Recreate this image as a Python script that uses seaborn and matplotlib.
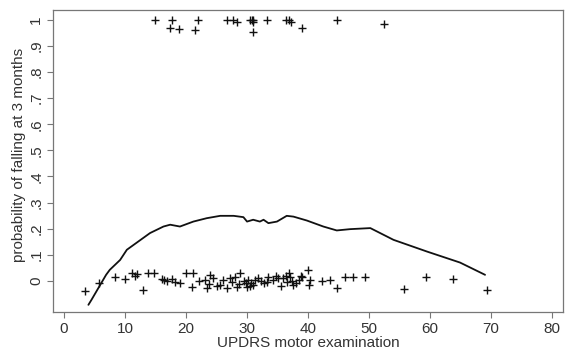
import numpy as np
import pandas as pd
import matplotlib
matplotlib.use("Agg")
import matplotlib.pyplot as plt
import seaborn as sns

# patients who fell (plotted jittered around 1)
updrs_fell = [14.9, 17.7, 17.4, 18.9, 21.9, 21.4, 26.7, 27.7, 28.4, 30.8, 30.5,
              31.0, 30.9, 30.9, 33.2, 36.8, 36.4, 37.2, 39.0, 44.7, 52.4]
prob_fell = [1.0, 1.0, 0.97, 0.965, 1.0, 0.96, 1.0, 1.0, 0.99, 1.0, 1.0,
             1.0, 0.99, 0.955, 1.0, 1.0, 1.0, 0.99, 0.97, 1.0, 0.985]

# patients who did not fall (jittered around 0)
updrs_nofall = [3.4, 5.8, 8.4, 10.0, 11.1, 11.6, 12.9, 13.8, 14.8, 16.0,
                16.8, 17.7, 18.2, 19.0, 20.0, 21.2, 20.9, 23.1, 23.9, 23.4,
                23.7, 24.5, 25.6, 26.1, 27.2, 28.0, 26.7, 28.4, 28.9, 27.5,
                25.0, 29.5, 29.8, 30.2, 30.5, 31.3, 31.0, 31.8, 32.3, 32.7,
                33.5, 33.2, 34.2, 35.1, 35.9, 36.3, 36.8, 37.0, 37.6, 37.3,
                38.1, 38.5, 39.0, 40.0, 40.3, 40.2, 42.2, 43.6, 44.8, 46.1,
                47.4, 49.3, 55.7, 59.4, 63.8, 69.3, 30.0, 30.7, 34.8, 36.5,
                12.0, 16.4, 22.2, 28.6, 35.5, 38.9]
prob_nofall = [-0.04, -0.01, 0.014, 0.007, 0.03, 0.02, -0.037, 0.03, 0.03, 0.007,
               0.0, 0.007, -0.003, -0.009, 0.03, 0.03, -0.022, 0.004, 0.023, -0.028,
               -0.011, 0.01, -0.015, 0.004, 0.01, 0.016, -0.028, -0.022, 0.03, -0.005,
               -0.02, 0.0, -0.01, 0.005, -0.02, 0.004, -0.015, 0.01, 0.0, -0.01,
               0.016, -0.003, 0.005, 0.01, 0.01, 0.02, 0.03, 0.013, -0.015, 0.0,
               -0.009, 0.005, 0.013, 0.042, 0.004, -0.015, 0.001, 0.004, -0.028, 0.016,
               0.013, 0.016, -0.031, 0.013, 0.008, -0.034, -0.025, -0.008, 0.02, -0.005,
               0.025, 0.003, 0.0, -0.012, -0.018, 0.02]

# smoothed probability of falling
smooth_x = [4.0, 4.5, 6.9, 7.5, 9.2, 10.3, 14.1, 16.3, 17.4, 19.0, 21.2, 23.4,
            25.6, 27.8, 29.4, 30.0, 31.0, 32.1, 32.7, 33.5, 34.9, 36.5, 37.6,
            39.8, 42.5, 44.7, 46.9, 50.2, 54.0, 59.5, 64.9, 69.0]
smooth_y = [-0.092, -0.073, 0.023, 0.042, 0.08, 0.119, 0.183, 0.208, 0.215,
            0.208, 0.227, 0.24, 0.249, 0.249, 0.244, 0.227, 0.234, 0.227, 0.234,
            0.221, 0.227, 0.249, 0.246, 0.231, 0.208, 0.193, 0.198, 0.202, 0.157,
            0.112, 0.07, 0.023]

sns.set_style("ticks")
plt.rcParams['font.family'] = ['Liberation Sans', 'DejaVu Sans']

pts = pd.DataFrame({"updrs": updrs_fell + updrs_nofall,
                    "prob": prob_fell + prob_nofall})
fit = pd.DataFrame({"updrs": smooth_x, "prob": smooth_y})

fig = plt.figure(figsize=(5.7, 3.54), dpi=100)
ax = fig.add_axes([0.093, 0.119, 0.895, 0.853])

sns.scatterplot(data=pts, x="updrs", y="prob", marker="+", color="#111111",
                s=38, linewidth=1.0, ax=ax, legend=False)
sns.lineplot(data=fit, x="updrs", y="prob", color="#111111", linewidth=1.3,
             ax=ax, estimator=None)

ax.set_xlim(-1.8, 81.8)
ax.set_ylim(-0.119, 1.038)
ax.set_xticks(range(0, 81, 10))
yt = np.round(np.arange(0, 1.01, 0.1), 1)
ax.set_yticks(yt)
ax.set_yticklabels(["0", ".1", ".2", ".3", ".4", ".5", ".6", ".7", ".8", ".9", "1"],
                   rotation=90, va="center")

for sp in ax.spines.values():
    sp.set_visible(True)
    sp.set_color("#777777")
    sp.set_linewidth(0.9)
ax.tick_params(direction="out", length=4, width=0.8, color="#777777",
               labelsize=11, labelcolor="#333333", pad=3)

ax.set_xlabel("UPDRS motor examination", fontsize=11, color="#333333", labelpad=0)
ax.set_ylabel("probability of falling at 3 months", fontsize=11, color="#333333")
ax.yaxis.set_label_coords(-0.053, 0.52)

fig.savefig("out.png", dpi=100)
plt.close(fig)
